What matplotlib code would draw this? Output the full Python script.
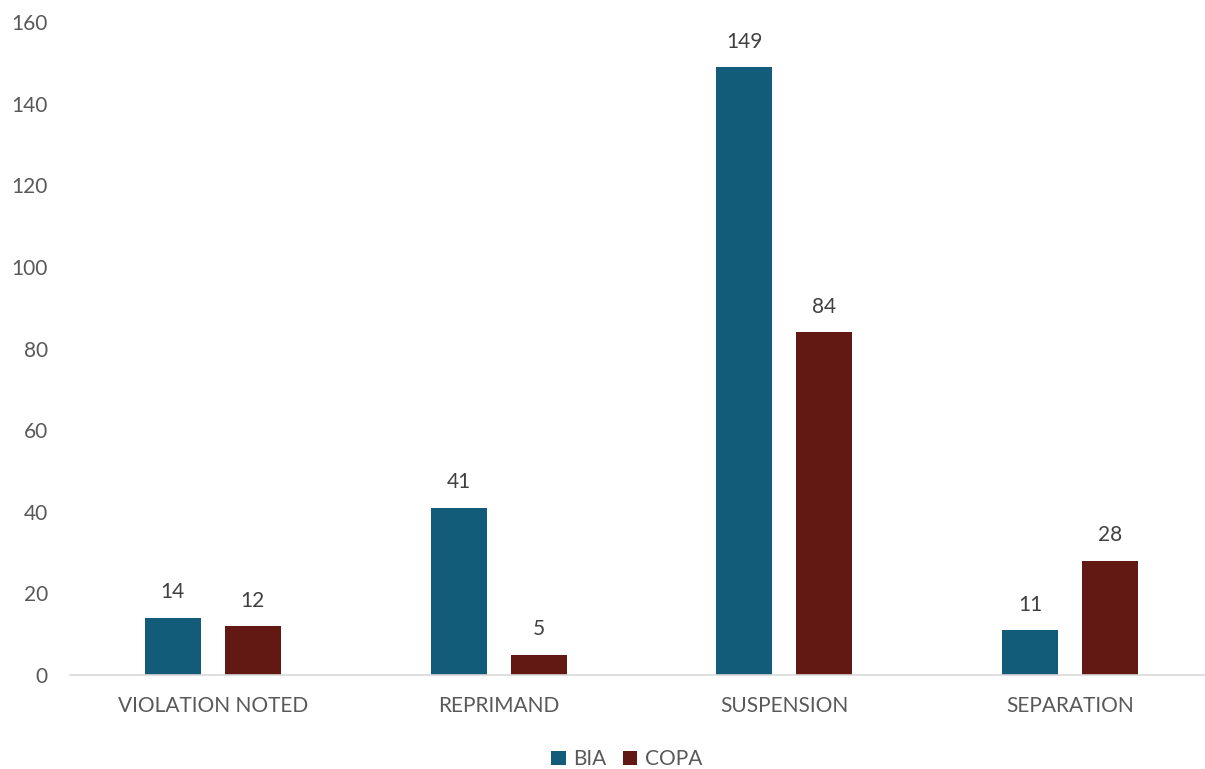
import matplotlib.pyplot as plt
import numpy as np

plt.rcParams['font.family'] = ['Lato', 'DejaVu Sans']

categories = ['VIOLATION NOTED', 'REPRIMAND', 'SUSPENSION', 'SEPARATION']
bia = [14, 41, 149, 11]
copa = [12, 5, 84, 28]

col_bia = '#125B79'
col_copa = '#621813'
txt = '#595959'

fig = plt.figure(figsize=(12.05, 7.69), dpi=100)
ax = fig.add_axes([0.0581, 0.1222, 0.9485, 0.849])

x = np.arange(len(categories))
w = 0.196
off = 0.14
b1 = ax.bar(x - off, bia, w, color=col_bia, label='BIA')
b2 = ax.bar(x + off, copa, w, color=col_copa, label='COPA')

# value labels above each bar
for bars, vals in ((b1, bia), (b2, copa)):
    for r, v in zip(bars, vals):
        ax.text(r.get_x() + r.get_width() / 2, v + 3.8, str(v),
                ha='center', va='bottom', fontsize=15, color='#404040')

ax.set_xlim(-0.5, 3.5)
ax.set_ylim(0, 160)
ax.set_yticks(range(0, 161, 20))
ax.set_xticks(x)
ax.set_xticklabels(categories)

for s in ['top', 'right', 'left']:
    ax.spines[s].set_visible(False)
ax.spines['bottom'].set_color('#D9D9D9')
ax.spines['bottom'].set_linewidth(1.2)
ax.tick_params(axis='both', length=0, labelsize=15, labelcolor=txt)
ax.tick_params(axis='x', pad=15)
ax.tick_params(axis='y', pad=16)

ax.legend(loc='upper center', bbox_to_anchor=(0.487, -0.085), ncol=2, frameon=False,
          fontsize=15, labelcolor=txt, handlelength=0.7, handleheight=0.7,
          handletextpad=0.35, columnspacing=0.8)

fig.savefig('out.png', dpi=100)
